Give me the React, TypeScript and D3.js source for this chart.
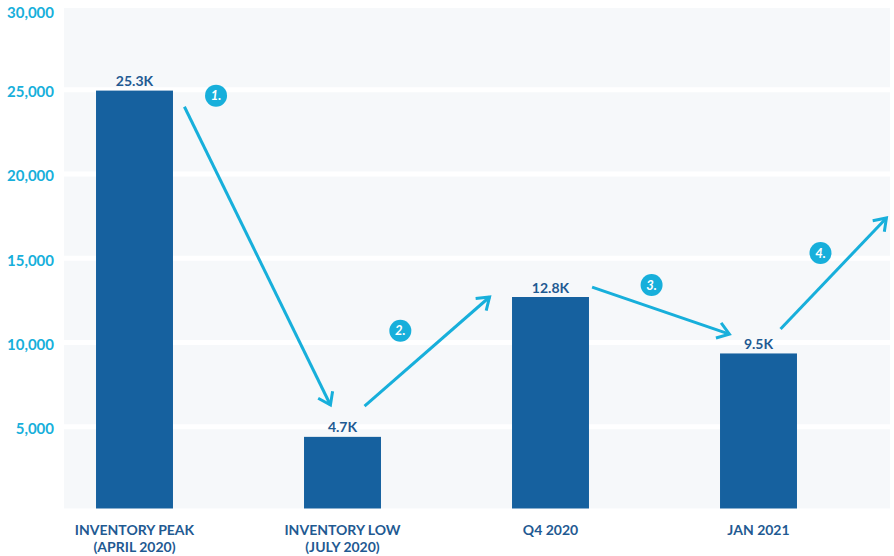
import React from "react";
import * as d3 from "d3";

const categories = ["INVENTORY PEAK|(APRIL 2020)", "INVENTORY LOW|(JULY 2020)", "Q4 2020", "JAN 2021"];
const barValues = [24950, 4400, 12700, 9350];
const valueLabels = ["25.3K", "4.7K", "12.8K", "9.5K"];
const yTicks = [5000, 10000, 15000, 20000, 25000, 30000];

// annotation arrows: [fromIndex, fromOffset(step fraction), fromValue, toIndex, toOffset, toValue]
const arrowFrom = [
  [0, 0.24, 23990],
  [1, 0.106, 6230],
  [2, 0.2, 13290],
  [3, 0.106, 10800],
];
const arrowTo = [
  [1, -0.058, 6290],
  [2, -0.293, 12700],
  [3, -0.14, 10500],
  [3, 0.615, 17390],
];
const badgeLabels = ["1.", "2.", "3.", "4."];
const badgePos = [
  [0, 0.392, 24650],
  [1, 0.278, 10700],
  [2, 0.486, 13410],
  [3, 0.298, 15310],
];

const W = 894;
const H = 556;
const FONT = "Lato, 'Open Sans', sans-serif";
const BAR = "#16619f";
const CYAN = "#17afdb";
const DARK = "#1f5a92";

export default function App() {
  const x = d3.scaleBand<string>().domain(categories).range([30.5, 862.5]).paddingInner(0.63).paddingOuter(0.315);
  const y = d3.scaleLinear().domain([0, 30000]).range([511, 5.5]);
  const step = x.step();
  const cx = (i: number) => (x(categories[i]) as number) + x.bandwidth() / 2;
  const px = (i: number, off: number) => cx(i) + off * step;

  const plotLeft = 64;
  const plotRight = 890;

  const arrowHead = (x1: number, y1: number, x2: number, y2: number) => {
    const ang = Math.atan2(y2 - y1, x2 - x1);
    const L = 14;
    const a = (35 * Math.PI) / 180;
    const p1 = [x2 - L * Math.cos(ang - a), y2 - L * Math.sin(ang - a)];
    const p2 = [x2 - L * Math.cos(ang + a), y2 - L * Math.sin(ang + a)];
    return `M${p1[0]},${p1[1]}L${x2},${y2}L${p2[0]},${p2[1]}`;
  };

  return (
    <svg width={W} height={H} style={{ position: "absolute", left: 0, top: 0, background: "#fff" }} fontFamily={FONT}>
      <rect x={0} y={0} width={W} height={H} fill="#fff" />
      <rect x={plotLeft} y={y(30000)} width={plotRight - plotLeft} height={y(0) - y(30000)} fill="#f6f8fa" />
      {yTicks.map((t) => (
        <line key={"g" + t} x1={plotLeft} x2={plotRight} y1={y(t)} y2={y(t)} stroke="#fff" strokeWidth={5} />
      ))}
      {barValues.map((v, i) => (
        <rect key={"b" + i} x={x(categories[i])} y={y(v)} width={x.bandwidth()} height={y(0) - y(v)} fill={BAR} />
      ))}
      <line x1={plotLeft} x2={plotRight} y1={y(0)} y2={y(0)} stroke="#fff" strokeWidth={5} />
      <rect x={plotLeft} y={y(0) + 2.5} width={plotRight - plotLeft} height={10} fill="#fff" />
      {yTicks.map((t) => (
        <text
          key={"yl" + t}
          x={54}
          y={Math.max(y(t) + 2, 13)}
          dy="0.35em"
          textAnchor="end"
          fill={CYAN}
          fontWeight={700}
          fontSize={15}
        >
          {d3.format(",")(t)}
        </text>
      ))}
      {barValues.map((v, i) => (
        <text key={"vl" + i} x={cx(i)} y={y(v) - 4.5} textAnchor="middle" fill={DARK} fontWeight={700} fontSize={14}>
          {valueLabels[i]}
        </text>
      ))}
      {categories.map((c, i) => {
        const lines = c.split("|");
        return (
          <text key={"c" + i} textAnchor="middle" fill={DARK} fontWeight={700} fontSize={14}>
            {lines.map((l, j) => (
              <tspan key={j} x={cx(i)} y={535 + j * 17}>
                {l}
              </tspan>
            ))}
          </text>
        );
      })}
      {arrowFrom.map((f, k) => {
        const t = arrowTo[k];
        const x1 = px(f[0], f[1]);
        const y1 = y(f[2]);
        const x2 = px(t[0], t[1]);
        const y2 = y(t[2]);
        return (
          <g key={"a" + k} stroke={CYAN} strokeWidth={3} fill="none" strokeLinecap="butt">
            <line x1={x1} y1={y1} x2={x2} y2={y2} />
            <path d={arrowHead(x1, y1, x2, y2)} strokeLinejoin="miter" />
          </g>
        );
      })}
      {badgePos.map((b, k) => (
        <g key={"bd" + k}>
          <circle cx={px(b[0], b[1])} cy={y(b[2])} r={11} fill={CYAN} />
          <text
            x={px(b[0], b[1])}
            y={y(b[2])}
            dy="0.36em"
            textAnchor="middle"
            fill="#fff"
            fontWeight={700}
            fontStyle="italic"
            fontSize={13}
          >
            {badgeLabels[k]}
          </text>
        </g>
      ))}
    </svg>
  );
}
